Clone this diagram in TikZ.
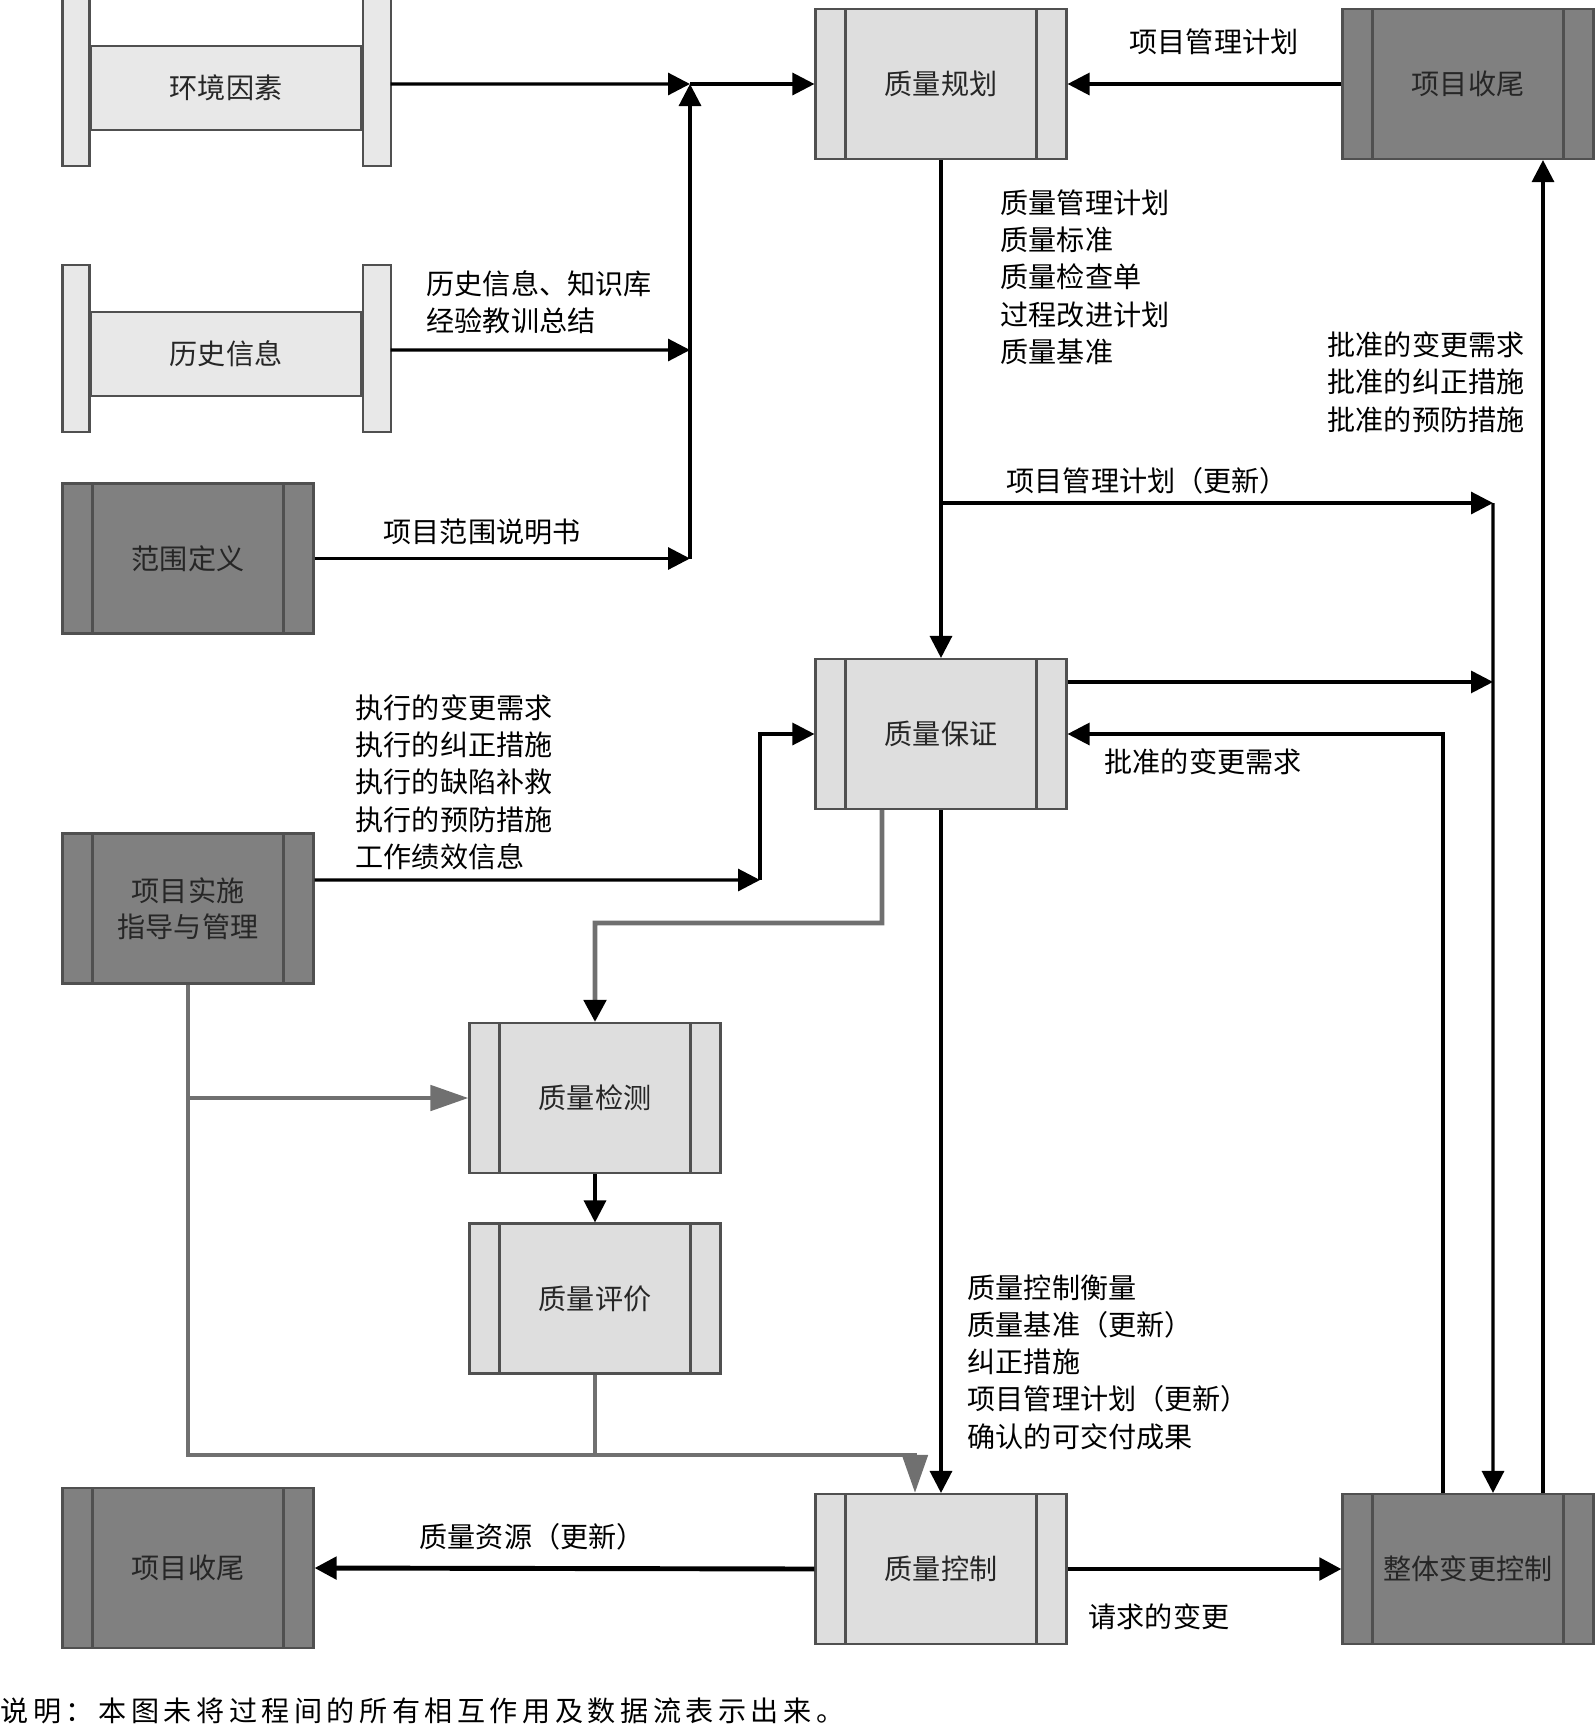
\documentclass[tikz,border=0pt]{standalone}
\usepackage{fontspec}
\setmainfont{Noto Sans CJK SC}
\usetikzlibrary{arrows.meta,calc}
\definecolor{procfill}{RGB}{222,222,222}
\definecolor{darkfill}{RGB}{128,128,128}
\definecolor{dbfill}{RGB}{232,232,232}
\definecolor{edge}{RGB}{80,80,80}
\definecolor{wire}{RGB}{112,112,112}
\tikzset{
  >={Triangle[length=2.2mm,width=2.2mm]},
  proc/.style={draw=edge,fill=#1,line width=0.6pt,minimum width=25.1mm,minimum height=15mm,
    align=center,text=black!85,font=\fontsize{8pt}{10.3pt}\selectfont,
    path picture={\draw[edge,line width=0.6pt]
      ([xshift=3mm]path picture bounding box.south west) -- ([xshift=3mm]path picture bounding box.north west)
      ([xshift=-3mm]path picture bounding box.south east) -- ([xshift=-3mm]path picture bounding box.north east);}},
  proc/.default=procfill,
  band/.style={draw=edge,fill=dbfill,line width=0.6pt,minimum width=27.1mm,minimum height=8.4mm,
    text=black!85,font=\fontsize{8pt}{10.3pt}\selectfont},
  dbbar/.style={draw=edge,fill=dbfill,line width=0.6pt},
  flow/.style={->,line width=0.9pt},
  heavy/.style={->,line width=1.4pt},
  gline/.style={draw=wire,line width=1.4pt},
  gflow/.style={gline,-{Triangle[length=3.8mm,width=2.5mm]}},
  tag/.style={font=\fontsize{8pt}{10.6pt}\selectfont,align=left,anchor=west,inner sep=0pt},
}
\begin{document}
\begin{tikzpicture}[x=0.1mm,y=-0.1mm]
  \useasboundingbox (0,0) rectangle (1594,1727);
  % inputs on the left
  \node[band] (env) at (226,88) {环境因素};
  \node[band] (his) at (226,354) {历史信息};
  \foreach \n in {env,his}{
    \filldraw[dbbar] ([yshift=4.6mm]\n.north west) rectangle ++(-2.7mm,-16.7mm);
    \filldraw[dbbar] ([yshift=4.6mm]\n.north east) rectangle ++(2.8mm,-16.7mm);
  }
  \node[proc=darkfill] (scope) at (188,558.5) {范围定义};
  \node[proc=darkfill] (exe) at (188,908.5) {项目实施\\指导与管理};
  \node[proc=darkfill,minimum height=16mm] (clo2) at (188,1568) {项目收尾};
  % quality processes
  \node[proc] (qp) at (941,84) {质量规划};
  \node[proc] (qa) at (941,734) {质量保证};
  \node[proc] (qm) at (595,1098) {质量检测};
  \node[proc] (qe) at (595,1298.5) {质量评价};
  \node[proc] (qc) at (941,1569) {质量控制};
  \node[proc=darkfill] (clo1) at (1468,84) {项目收尾};
  \node[proc=darkfill] (icc) at (1468,1569) {整体变更控制};
  % helper points
  \coordinate (mergetop) at (690,84);
  \coordinate (mergehis) at (690,350);
  \coordinate (mergescope) at (690,558.5);
  \coordinate (bustop) at (1493,503);
  \coordinate (qaout) at ([yshift=-2.4mm]qa.north east);
  \coordinate (exeturn) at (760,880);
  \coordinate (qabend) at (882,923);
  \coordinate (feedline) at (0,1455);
  \coordinate (qcin) at ([xshift=-2.6mm]qc.north);
  % inputs to planning
  \draw[flow] ([xshift=2.8mm,yshift=0.4mm]env.east) -- (mergetop);
  \draw[flow] ([xshift=2.8mm,yshift=0.4mm]his.east) -- (mergehis);
  \draw[flow] (scope.east) -- (mergescope);
  \draw[flow] (mergescope) -- (mergetop);
  \draw[flow] (mergetop) -- (qp.west);
  \draw[flow] (clo1.west) -- (qp.east);
  % planning, assurance, control
  \draw[flow] (qp.south) -- (qa.north);
  \draw[flow] (qp.south |- bustop) -- (bustop);
  \draw[flow] (qaout) -- (qaout -| bustop);
  \draw[flow] (bustop) -- ([xshift=2.5mm]icc.north);
  \draw[flow] ([xshift=-2.5mm]icc.north) |- (qa.east);
  \draw[flow] ([xshift=7.5mm]icc.north) -- ([xshift=7.5mm]clo1.south);
  \draw[flow] ([yshift=2.85mm]exe.east) -- (exeturn);
  \draw[flow] (exeturn) |- (qa.west);
  \draw[gline,-{Triangle[length=2.2mm,width=2.2mm,color=black]}] ([xshift=-5.9mm]qa.south) -- (qabend) -| (qm.north);
  \draw[flow] (qm.south) -- (qe.north);
  \draw[gflow] (exe.south) |- (qcin |- feedline) -- (qcin);
  \draw[gflow] (exe.south |- qm.west) -- (qm.west);
  \draw[gline] (qe.south) -- (qe.south |- feedline);
  \draw[flow] (qa.south) -- (qc.north);
  \draw[heavy] (qc.west) -- (clo2.east);
  \draw[heavy] (qc.east) -- (icc.west);
  % labels
  \node[tag] (hislbl) at (426,302) {历史信息、知识库\\经验教训总结};
  \node[tag] (scopelbl) at (383,532) {项目范围说明书};
  \node[tag] (planin) at (1129,42) {项目管理计划};
  \node[tag] (planlist) at (1000,277) {质量管理计划\\质量标准\\质量检查单\\过程改进计划\\质量基准};
  \node[tag] (apprlist) at (1327,382) {批准的变更需求\\批准的纠正措施\\批准的预防措施};
  \node[tag] (planupd) at (1006,481) {项目管理计划（更新）};
  \node[tag] (exelist) at (355,782) {执行的变更需求\\执行的纠正措施\\执行的缺陷补救\\执行的预防措施\\工作绩效信息};
  \node[tag] (apprcr) at (1104,762) {批准的变更需求};
  \node[tag] (ctrllist) at (967,1362) {质量控制衡量\\质量基准（更新）\\纠正措施\\项目管理计划（更新）\\确认的可交付成果};
  \node[tag] (resupd) at (419,1537) {质量资源（更新）};
  \node[tag] (reqchg) at (1088,1617) {请求的变更};
  \node[tag,font=\fontsize{8pt}{10pt}\selectfont\addfontfeature{LetterSpace=16}] (remark) at (0,1711) {说明：本图未将过程间的所有相互作用及数据流表示出来。};
\end{tikzpicture}
\end{document}
